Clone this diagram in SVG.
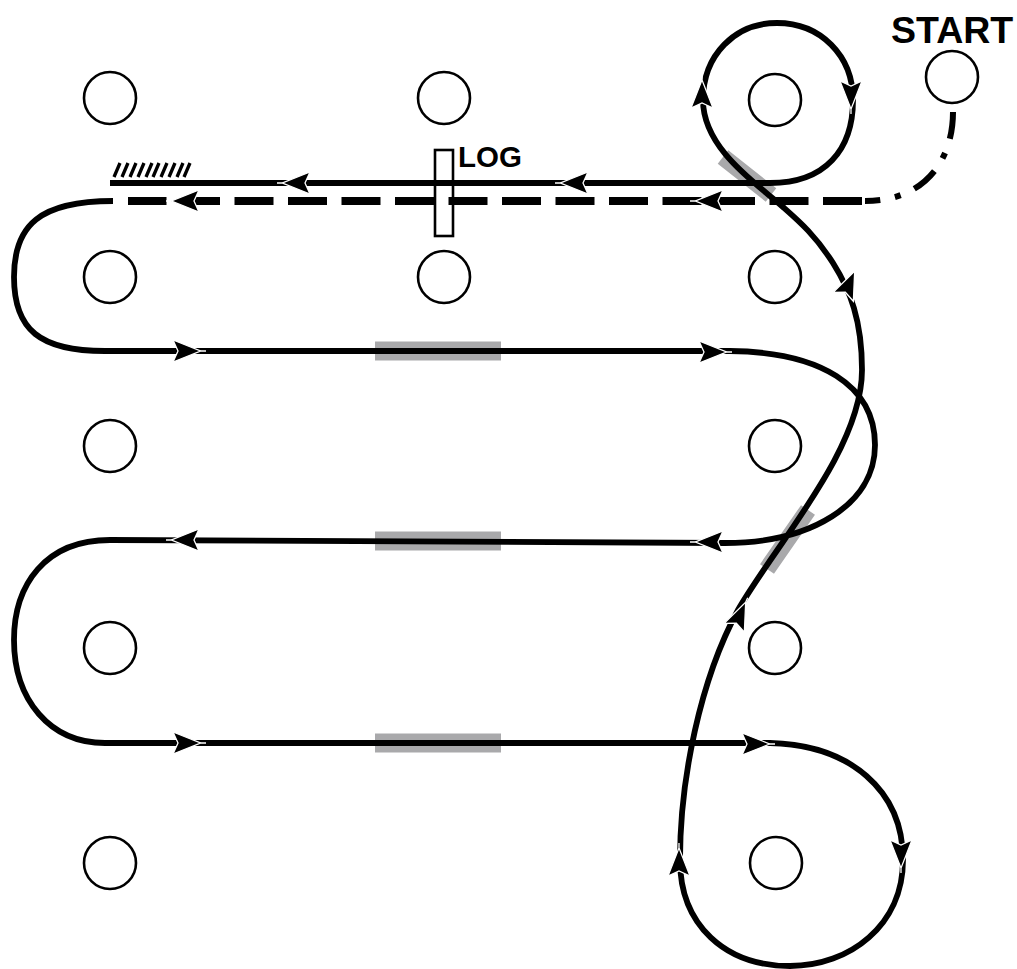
<svg xmlns="http://www.w3.org/2000/svg" width="1017" height="969" viewBox="0 0 1017 969">
<style>
.n{fill:#fff;stroke:#000;stroke-width:2.6}
.l{fill:none;stroke:#000;stroke-width:5.800}
.g{fill:none;stroke:#a9a9ab;stroke-width:19}
.t{font-family:"Liberation Sans",Arial,sans-serif;font-weight:700;fill:#000}
</style>
<defs>
<path id="a" d="M19,0 L14,0 L-14,-11 L-9,0 L-14,11 L14,0 Z" fill="#000" stroke="#fff" stroke-width="1.3" stroke-linejoin="miter"/>
</defs>
<rect width="1017" height="969" fill="#fff"/>
<g id="tape-marks">
<path class="g" d="M375,351H501M375,541H501M375,743H501"/>
<path class="g" style="stroke-width:17" d="M723,157L771,195M808,510L767,569"/>
</g>
<g id="connectors">
<path class="l" d="M113,201C40,201 14,225 14,277C14,330 40,351 105,351H730C820,352 875,385 875,445C875,505 810,543 725,543L110,540C45,540 14,585 14,640C14,700 50,743 105,743H770C850,745 903,790 903,860C903,925 850,966 790,966C725,966 680,925 680,860C680,780 700,680 738,610C775,545 862,450 862,370C862,320 850,290 833,263C815,235 800,222 783,207C760,186 703,150 703,100C703,55 735,23 777,23C820,23 853,55 853,100C853,150 825,183 770,183H110"/>
<path class="l" stroke-dasharray="39 14.500" d="M862,201H128" style="stroke-width:8"/>
<path class="l" stroke-dasharray="27 15 6 15" style="stroke-width:6" d="M953,112C953,160 925,201 865,201"/>
</g>
<g id="arrows">
<use href="#a" transform="translate(296,183) rotate(180)"/>
<use href="#a" transform="translate(574,183) rotate(180)"/>
<use href="#a" transform="translate(185,201) rotate(180)"/>
<use href="#a" transform="translate(709,201) rotate(180)"/>
<use href="#a" transform="translate(187,351)"/>
<use href="#a" transform="translate(713,352)"/>
<use href="#a" transform="translate(185,540) rotate(180)"/>
<use href="#a" transform="translate(709,542) rotate(180)"/>
<use href="#a" transform="translate(187,743)"/>
<use href="#a" transform="translate(756,744)"/>
<use href="#a" transform="translate(702,94) rotate(-90)"/>
<use href="#a" transform="translate(851,95) rotate(90)"/>
<use href="#a" transform="translate(901,854) rotate(90)"/>
<use href="#a" transform="translate(679,862) rotate(-90)"/>
<use href="#a" transform="translate(849,284) rotate(-66)"/>
<use href="#a" transform="translate(740,615) rotate(-66)"/>
</g>
<g id="log">
<rect x="435" y="150" width="18" height="86" fill="none" stroke="#000" stroke-width="2.6"/>
<text class="t" x="458" y="167" font-size="29.500">LOG</text>
</g>
<g id="hatch">
<path d="M114,177l6,-14M122,177l6,-14M130,177l6,-14M138,177l6,-14M146,177l6,-14M153,177l6,-14M161,177l6,-14M169,177l6,-14M177,177l6,-14M184,177l6,-14" fill="none" stroke="#000" stroke-width="3.300"/>
</g>
<g id="n-start"><circle class="n" cx="952" cy="77" r="26"/><text class="t" x="891" y="43" font-size="37.500">START</text></g>
<g id="n1"><circle class="n" cx="110" cy="98" r="26"/></g>
<g id="n2"><circle class="n" cx="444" cy="98" r="26"/></g>
<g id="n3"><circle class="n" cx="775" cy="100" r="26"/></g>
<g id="n4"><circle class="n" cx="110" cy="277" r="26"/></g>
<g id="n5"><circle class="n" cx="444" cy="277" r="26"/></g>
<g id="n6"><circle class="n" cx="775" cy="277" r="26"/></g>
<g id="n7"><circle class="n" cx="110" cy="446" r="26"/></g>
<g id="n8"><circle class="n" cx="775" cy="446" r="26"/></g>
<g id="n9"><circle class="n" cx="110" cy="648" r="26"/></g>
<g id="n10"><circle class="n" cx="775" cy="648" r="26"/></g>
<g id="n11"><circle class="n" cx="110" cy="863" r="26"/></g>
<g id="n12"><circle class="n" cx="776" cy="863" r="26"/></g>
</svg>
